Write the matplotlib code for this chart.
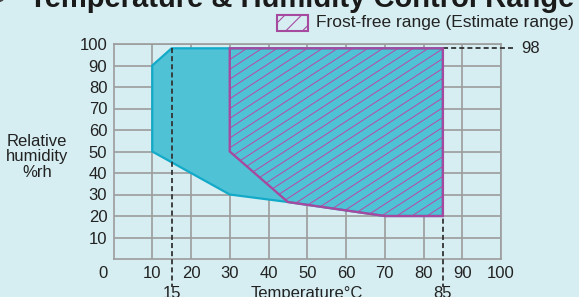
import numpy as np
import matplotlib
matplotlib.use('Agg')
import matplotlib.pyplot as plt
from matplotlib.patches import Polygon, Rectangle, Ellipse
from matplotlib.collections import LineCollection

plt.rcParams['font.family'] = ['Liberation Sans', 'DejaVu Sans']
plt.rcParams['hatch.linewidth'] = 0.8

# Control range (cyan area)
range_temp = [10, 10, 15, 85, 85, 70, 45, 30, 20]
range_rh = [50, 90, 98, 98, 20, 20, 26.5, 30, 40]

# Frost-free range (hatched area)
frost_temp = [30, 85, 85, 70, 45, 30]
frost_rh = [98, 98, 20, 20, 26.5, 50]

x_ticks = [10, 20, 30, 40, 50, 60, 70, 80, 90, 100]
y_ticks = [10, 20, 30, 40, 50, 60, 70, 80, 90, 100]
marks_temp = [15, 85]
mark_rh = 98

bg = '#d6eef2'
cyan = '#4fc3d5'
cyan_edge = '#12aac8'
magenta = '#a64a9f'
grid_c = '#9c9c9c'
dash_c = '#333333'

W, H = 579, 297
fig = plt.figure(figsize=(W / 100, H / 100), dpi=100, facecolor=bg)
ax = fig.add_axes([113.5 / W, 1 - 259 / H, (501 - 113.5) / W, (259 - 44) / H])
ax.set_facecolor(bg)
ax.set_xlim(0, 100)
ax.set_ylim(0, 100)

ax.set_xticks(x_ticks)
ax.set_yticks(y_ticks)
ax.tick_params(length=0, labelsize=12, colors='#222222')
ax.tick_params(axis='x', pad=5)
ax.tick_params(axis='y', pad=4.5)
ax.grid(True, color=grid_c, lw=1.2, zorder=0)
ax.set_axisbelow(True)
for s in ax.spines.values():
    s.set_color(grid_c)
    s.set_linewidth(1.2)
ax.annotate('0', xy=(0, 0), xytext=(-4.5, -5), textcoords='offset points',
            ha='right', va='top', fontsize=12, color='#222222')

# cyan control range
ax.add_patch(Polygon(np.column_stack([range_temp, range_rh]), closed=True,
                     facecolor=cyan, edgecolor=cyan_edge, lw=1.6, zorder=2))

# dashed marker lines
dash = (0, (2.8, 1.7))
for t in marks_temp:
    ax.plot([t, t], [mark_rh, -13], color=dash_c, lw=1.3, ls=dash,
            clip_on=False, zorder=3)
    ax.text(t, -12.5, str(t), ha='center', va='top', fontsize=12,
            color='#222222', clip_on=False)
ax.plot([marks_temp[1], 103], [mark_rh, mark_rh], color=dash_c, lw=1.3,
        ls=dash, clip_on=False, zorder=3)
ax.text(105.2, mark_rh, str(mark_rh), ha='left', va='center', fontsize=12,
        color='#222222')

# hatched frost-free range
frost = Polygon(np.column_stack([frost_temp, frost_rh]), closed=True,
                facecolor='none', edgecolor=magenta, lw=1.7, zorder=5)
ax.add_patch(frost)
slope, step = 1.17, 3.9
segs = [[(c, 0), (c + 100, slope * 100)] for c in np.arange(-100, 100, step)]
hatch = LineCollection(segs, colors='#b24fa9', linewidths=0.75, zorder=4)
ax.add_collection(hatch)
hatch.set_clip_path(frost)

ax.text(50, -12.5, 'Temperature\u00b0C', ha='center', va='top', fontsize=12,
        color='#222222', clip_on=False)
fig.text(37 / W, 1 - 157 / H, 'Relative\nhumidity\n%rh', ha='center',
         va='center', fontsize=12, linespacing=1.05, color='#222222')

# legend
fig.add_artist(Rectangle((277 / W, 1 - 31 / H), 31 / W, 16 / H,
                         transform=fig.transFigure, facecolor=bg,
                         edgecolor=magenta, lw=1.5, hatch='//'))
fig.text(316 / W, 1 - 23 / H, 'Frost-free range (Estimate range)',
         ha='left', va='center', fontsize=12.5, color='#222222')

# title
fig.add_artist(Ellipse((-3 / W, 1 + 7 / H), 18 / W, 18 / H,
                       transform=fig.transFigure, color='#444444'))
fig.text(29 / W, 1 - 7 / H, 'Temperature & Humidity Control Range',
         ha='left', va='baseline', fontsize=21, fontweight='bold',
         color='#1a1a1a')

fig.savefig('out.png', dpi=100, facecolor=bg)
